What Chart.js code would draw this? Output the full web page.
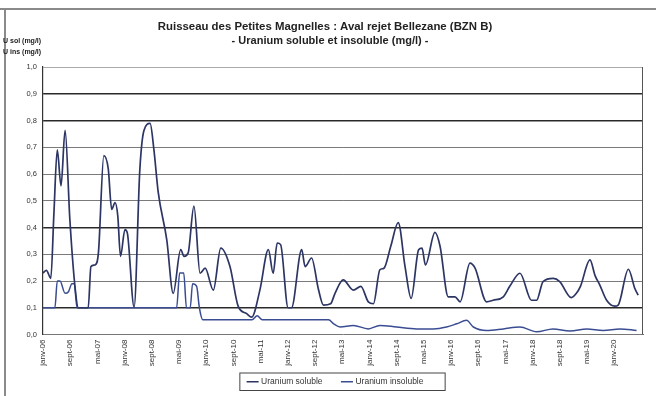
<!DOCTYPE html>
<html>
<head>
<meta charset="utf-8">
<script src="https://cdn.jsdelivr.net/npm/chart.js@4/dist/chart.umd.min.js"></script>
<style>
  html, body { margin: 0; padding: 0; background: #fff; }
  #wrap { width: 656px; height: 396px; position: relative; }
</style>
</head>
<body>
<div id="wrap"><canvas id="chart" width="656" height="396"></canvas></div>
<script>
// Values (x = months since janv-06)
const chartTitle = 'Ruisseau des Petites Magnelles : Aval rejet Bellezane (BZN B)';
const chartSubtitle = '- Uranium soluble et insoluble (mg/l) -';
const axisTitles = ['U sol (mg/l)', 'U ins (mg/l)'];
const seriesNames = ['Uranium soluble', 'Uranium insoluble'];

const tickLabels = ['janv-06', 'sept-06', 'mai-07', 'janv-08', 'sept-08', 'mai-09', 'janv-10',
  'sept-10', 'mai-11', 'janv-12', 'sept-12', 'mai-13', 'janv-14', 'sept-14', 'mai-15',
  'janv-16', 'sept-16', 'mai-17', 'janv-18', 'sept-18', 'mai-19', 'janv-20'];

const solubleMonths = [0, 1, 2.3, 3.2, 4.2, 5.3, 6.5, 7.9, 9.4, 10.4, 13.3, 14.1, 15.3, 16.3,
  17.9, 19.2, 20.2, 21.2, 22, 22.8, 24.1, 24.8, 26.8, 28.5, 29.7, 31.5, 32.6, 33.9, 36.4,
  38.3, 40.5, 41.5, 42.7, 44.4, 46.2, 47.7, 50.1, 52.3, 55, 57.4, 59.9, 61.4, 63.8, 66.3,
  67.7, 68.9, 69.9, 72.1, 73.1, 76.1, 77.1, 79, 81, 82.5, 84.6, 85.9, 88.3, 91.3, 93.5,
  95.7, 97.2, 99.1, 100.3, 102.3, 104.5, 106.5, 108.3, 110.5, 111.5, 112.5, 115.3, 116.8,
  119.2, 121.2, 122.7, 125.6, 127.1, 130.5, 132.4, 135.4, 137.3, 140.3, 143.7, 145.2,
  147.1, 150.1, 152, 155.4, 156.9, 158.1, 160.9, 162.4, 163.8, 165.8, 168.2, 169.2, 172.2,
  174.1, 175.1];
const solubleValues = [0.23, 0.24, 0.21, 0.45, 0.69, 0.556, 0.763, 0.43, 0.18, 0.10, 0.10,
  0.254, 0.26, 0.305, 0.669, 0.619, 0.468, 0.493, 0.443, 0.292, 0.392, 0.38, 0.103, 0.62,
  0.763, 0.789, 0.694, 0.531, 0.355, 0.154, 0.317, 0.292, 0.305, 0.48, 0.229, 0.248, 0.166,
  0.323, 0.254, 0.106, 0.078, 0.065, 0.166, 0.317, 0.229, 0.342, 0.336, 0.10, 0.10, 0.317,
  0.254, 0.286, 0.17, 0.11, 0.115, 0.154, 0.204, 0.166, 0.18, 0.122, 0.115, 0.242, 0.248,
  0.33, 0.418, 0.254, 0.135, 0.317, 0.323, 0.26, 0.382, 0.33, 0.141, 0.141, 0.122, 0.267,
  0.248, 0.122, 0.128, 0.141, 0.18, 0.229, 0.128, 0.128, 0.198, 0.21, 0.198, 0.138, 0.154,
  0.18, 0.279, 0.22, 0.185, 0.128, 0.106, 0.11, 0.244, 0.172, 0.147];

const insolubleMonths = [0, 3.5, 4.2, 5, 6.5, 7.5, 8.5, 9.2, 10, 39.3, 40.2, 41.4, 42.2, 43.3,
  44, 45.2, 46, 47, 61.5, 63, 64.5, 84, 85.5, 87.4, 91.3, 95.7, 99.1, 104, 109.9, 114.8,
  118.7, 121.7, 124.6, 126.6, 130.5, 135.4, 140.3, 145.2, 150, 155, 160, 164.8, 169.7, 174.6];
const insolubleValues = [0.1, 0.1, 0.2, 0.2, 0.154, 0.16, 0.19, 0.19, 0.1, 0.1, 0.23, 0.23,
  0.1, 0.1, 0.19, 0.18, 0.1, 0.055, 0.055, 0.07, 0.055, 0.055, 0.04, 0.028, 0.034, 0.021,
  0.034, 0.028, 0.021, 0.021, 0.028, 0.04, 0.053, 0.028, 0.015, 0.021, 0.028, 0.01, 0.021,
  0.013, 0.021, 0.015, 0.021, 0.015];

const toPoints = (xs, ys) => xs.map((x, i) => ({ x: x, y: ys[i] }));

// darker grid lines where the scan shows them darker
const darkGrid = [1, 4, 8, 9];

const decorPlugin = {
  id: 'decor',
  beforeDraw(chart) {
    const ctx = chart.ctx;
    ctx.save();
    ctx.fillStyle = '#fff';
    ctx.fillRect(0, 0, chart.width, chart.height);
    // scanned page frame
    ctx.strokeStyle = '#8a8a8a';
    ctx.lineWidth = 2;
    ctx.beginPath();
    ctx.moveTo(0, 9); ctx.lineTo(chart.width, 9);
    ctx.moveTo(5, 9); ctx.lineTo(5, chart.height);
    ctx.stroke();
    ctx.restore();
  },
  afterDraw(chart) {
    const ctx = chart.ctx;
    const area = chart.chartArea;
    ctx.save();
    ctx.fillStyle = '#222';
    ctx.textAlign = 'center';
    ctx.textBaseline = 'middle';
    ctx.font = 'bold 11.4px "Liberation Sans", Arial, sans-serif';
    ctx.fillText(chartTitle, 325, 27);
    ctx.font = 'bold 11px "Liberation Sans", Arial, sans-serif';
    ctx.fillText(chartSubtitle, 330, 41);
    ctx.textAlign = 'left';
    ctx.font = 'bold 7px "Liberation Sans", Arial, sans-serif';
    ctx.fillText(axisTitles[0], 3, 41);
    ctx.fillText(axisTitles[1], 3, 52);
    // plot frame
    ctx.lineWidth = 1;
    ctx.strokeStyle = '#aaa';
    ctx.beginPath();
    ctx.moveTo(area.left, area.top + 0.5); ctx.lineTo(area.right, area.top + 0.5);
    ctx.stroke();
    ctx.strokeStyle = '#555';
    ctx.beginPath();
    ctx.moveTo(area.right - 0.5, area.top); ctx.lineTo(area.right - 0.5, area.bottom);
    ctx.stroke();
    // legend box
    const boxes = chart.legend.legendHitBoxes;
    if (boxes && boxes.length) {
      const first = boxes[0], last = boxes[boxes.length - 1];
      ctx.strokeStyle = '#444';
      ctx.strokeRect(first.left - 8.5, first.top - 4.5,
        last.left + last.width - first.left + 16, first.height + 9);
    }
    ctx.restore();
  }
};

new Chart(document.getElementById('chart'), {
  type: 'line',
  data: {
    datasets: [{
      label: seriesNames[0],
      data: toPoints(solubleMonths, solubleValues),
      borderColor: '#2c3563',
      borderWidth: 1.7,
      pointRadius: 0,
      cubicInterpolationMode: 'monotone',
      fill: false
    }, {
      label: seriesNames[1],
      data: toPoints(insolubleMonths, insolubleValues),
      borderColor: '#3a4c92',
      borderWidth: 1.5,
      pointRadius: 0,
      cubicInterpolationMode: 'monotone',
      fill: false
    }]
  },
  options: {
    responsive: false,
    animation: false,
    layout: { padding: { left: 8, right: 13, top: 67, bottom: 0 } },
    scales: {
      x: {
        type: 'linear',
        min: 0,
        max: 176.5,
        afterBuildTicks: axis => {
          axis.ticks = tickLabels.map((_, i) => ({ value: i * 8 }));
        },
        afterFit: axis => { axis.height = 37; },
        ticks: {
          autoSkip: false,
          minRotation: 90,
          maxRotation: 90,
          padding: 2,
          color: '#333',
          font: { family: '"Liberation Sans", Arial, sans-serif', size: 8 },
          callback: value => tickLabels[Math.round(value / 8)]
        },
        grid: { display: false, drawTicks: true, tickLength: 3 },
        border: { display: true, color: '#777', width: 1 }
      },
      y: {
        min: 0,
        max: 1,
        afterFit: axis => { axis.width = 35; },
        ticks: {
          stepSize: 0.1,
          padding: 6,
          color: '#333',
          font: { family: '"Liberation Sans", Arial, sans-serif', size: 7.5 },
          callback: value => value.toFixed(1).replace('.', ',')
        },
        grid: {
          color: ctx => darkGrid.includes(ctx.index) ? '#2a2a2a' : '#7a7a7a',
          lineWidth: ctx => ctx.index === 0 || ctx.index === 10 ? 0 : (darkGrid.includes(ctx.index) ? 1.4 : 1),
          drawTicks: false
        },
        border: { display: true, color: '#333', width: 1.2 }
      }
    },
    plugins: {
      legend: {
        position: 'bottom',
        fullSize: false,
        labels: {
          usePointStyle: true,
          pointStyle: 'line',
          boxWidth: 26,
          padding: 6,
          color: '#333',
          font: { family: '"Liberation Sans", Arial, sans-serif', size: 8.5 },
          generateLabels: chart => Chart.defaults.plugins.legend.labels.generateLabels(chart)
            .map(item => Object.assign(item, { text: item.text + '      ' }))
        }
      },
      tooltip: { enabled: false }
    }
  },
  plugins: [decorPlugin]
});
</script>
</body>
</html>
